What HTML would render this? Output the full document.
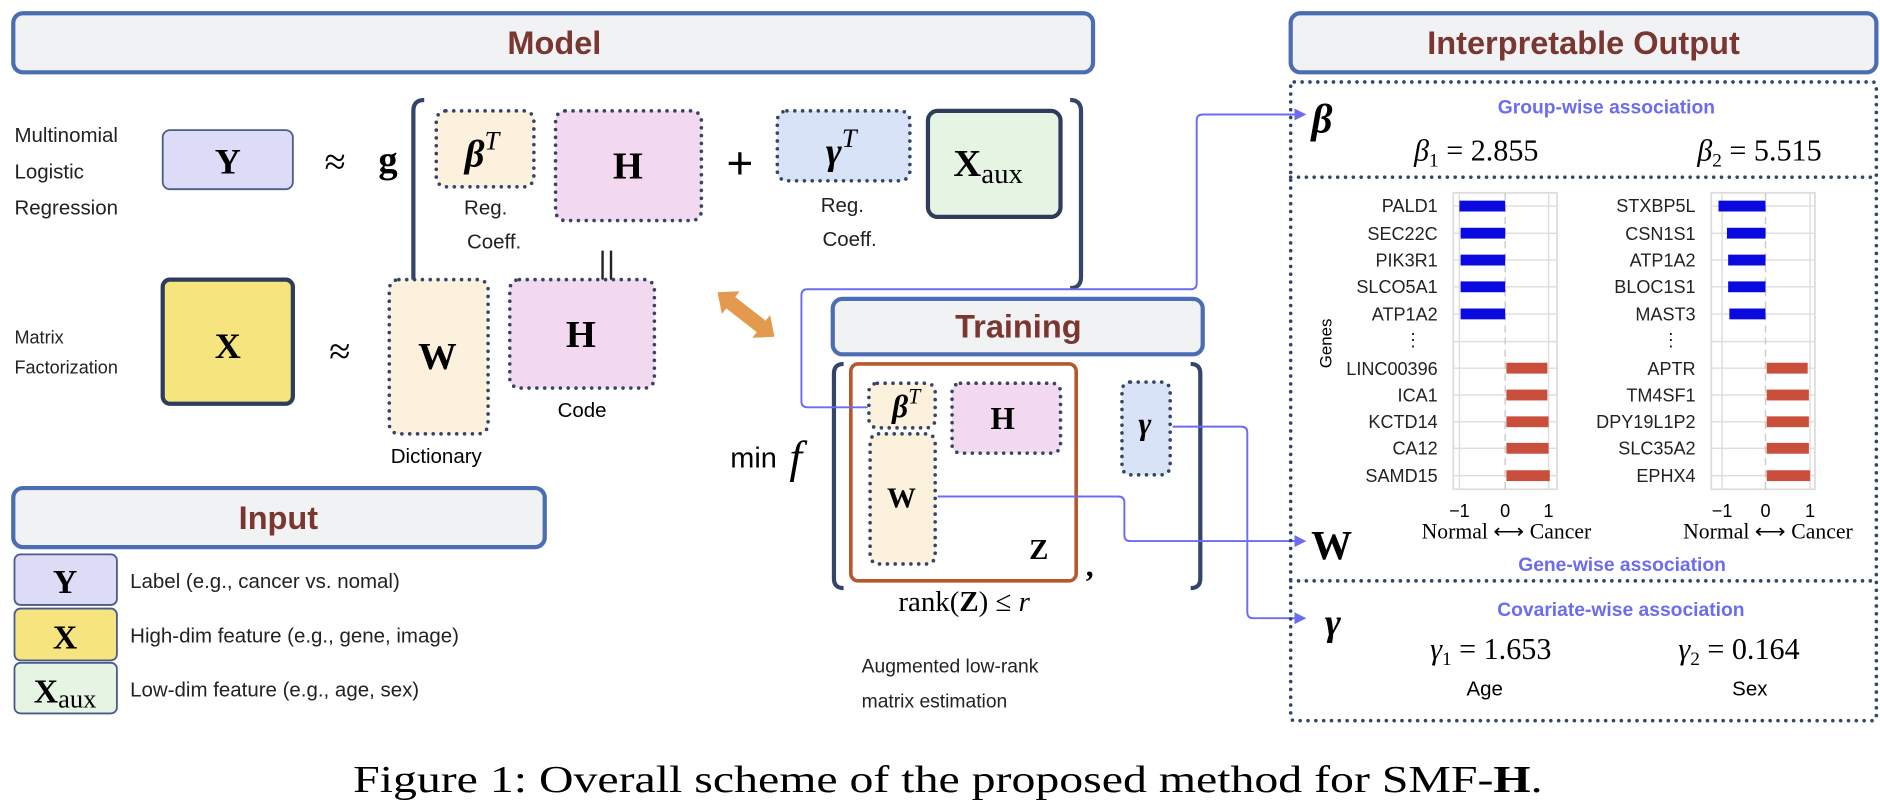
<!DOCTYPE html>
<html><head><meta charset="utf-8"><style>
html,body{margin:0;padding:0;background:#fff;width:1880px;height:802px;overflow:hidden}
svg{display:block}
.s{font-family:"Liberation Sans",sans-serif}
.r{font-family:"Liberation Serif",serif}
.hd{font-family:"Liberation Sans",sans-serif;font-weight:bold;fill:#7a3630;font-size:27px}
.dot{stroke:#34456a;stroke-width:3;stroke-dasharray:0 6.5;stroke-linecap:round}
.lk{fill:none;stroke:#6c6cf0;stroke-width:1.6}
.gl{font-family:"Liberation Sans",sans-serif;font-size:15px;fill:#222;text-anchor:end}
</style></head><body>
<svg width="1880" height="802" viewBox="0 0 1560 665.5" xmlns="http://www.w3.org/2000/svg">
<defs><marker id="ar" markerWidth="10" markerHeight="10" refX="8" refY="5" orient="auto" markerUnits="userSpaceOnUse"><path d="M0,0 L10,5 L0,10 z" fill="#6c6cf0"/></marker></defs>

<!-- headers -->
<rect x="11" y="11" width="896" height="49" rx="8" fill="#f1f2f4" stroke="#4a6db3" stroke-width="3.5"/>
<text x="460" y="45" class="hd" text-anchor="middle">Model</text>
<rect x="1071" y="11" width="486" height="49" rx="8" fill="#f1f2f4" stroke="#4a6db3" stroke-width="3.5"/>
<text x="1314" y="45" class="hd" text-anchor="middle">Interpretable Output</text>
<rect x="11" y="405" width="441" height="49" rx="8" fill="#f1f2f4" stroke="#4a6db3" stroke-width="3.5"/>
<text x="231" y="439" class="hd" text-anchor="middle">Input</text>
<rect x="691" y="248" width="307" height="46" rx="8" fill="#f1f2f4" stroke="#4a6db3" stroke-width="3.5"/>
<text x="845" y="280" class="hd" text-anchor="middle">Training</text>

<!-- Model row 1 -->
<g class="s" font-size="17" fill="#222"><text x="12" y="118">Multinomial</text><text x="12" y="148">Logistic</text><text x="12" y="178">Regression</text>
<text x="12" y="285" font-size="15">Matrix</text><text x="12" y="310" font-size="15">Factorization</text></g>
<rect x="135" y="108" width="108" height="49" rx="6" fill="#dcdcf7" stroke="#4b5b8c" stroke-width="1.5"/>
<text x="189" y="144" class="r" font-weight="bold" font-size="30" text-anchor="middle">Y</text>
<text x="278" y="145" class="r" font-size="32" text-anchor="middle">≈</text>
<text x="322" y="143" class="r" font-weight="bold" font-size="32" text-anchor="middle">g</text>
<path d="M352,83 Q343,83 343,92 L343,230 Q343,239 352,239" fill="none" stroke="#34456a" stroke-width="3.5"/>
<path d="M888,83 Q897,83 897,92 L897,230 Q897,239 888,239" fill="none" stroke="#34456a" stroke-width="3.5"/>
<rect x="362" y="92" width="81" height="63" rx="8" fill="#fbf1dc" class="dot"/>
<text x="400" y="138" class="r" font-style="italic" font-weight="bold" font-size="32" text-anchor="middle">β<tspan font-size="22" dy="-14" font-weight="normal">T</tspan></text>
<rect x="461" y="92" width="121" height="91" rx="8" fill="#f3d9ef" class="dot"/>
<text x="521" y="148" class="r" font-weight="bold" font-size="32" text-anchor="middle">H</text>
<text x="614" y="148" class="s" font-size="38" text-anchor="middle">+</text>
<rect x="645" y="92" width="110" height="58" rx="8" fill="#d9e3f8" class="dot"/>
<text x="698" y="136" class="r" font-style="italic" font-weight="bold" font-size="32" text-anchor="middle">γ<tspan font-size="22" dy="-14" font-weight="normal">T</tspan></text>
<rect x="770" y="92" width="110" height="88" rx="8" fill="#e6f5e3" stroke="#2e3d5c" stroke-width="3.5"/>
<text x="820" y="146" class="r" font-weight="bold" font-size="32" text-anchor="middle">X<tspan font-weight="normal" font-size="24" dy="6">aux</tspan></text>
<g class="s" font-size="17" fill="#222" text-anchor="middle"><text x="403" y="178">Reg.</text><text x="410" y="206">Coeff.</text><text x="699" y="176">Reg.</text><text x="705" y="204">Coeff.</text></g>
<path d="M500,208 L500,240 M507,208 L507,240" stroke="#222" stroke-width="2"/>

<!-- Model row 2 -->
<rect x="135" y="232" width="108" height="103" rx="6" fill="#f6e47e" stroke="#2e3d5c" stroke-width="3.5"/>
<text x="189" y="297" class="r" font-weight="bold" font-size="30" text-anchor="middle">X</text>
<text x="282" y="302" class="r" font-size="32" text-anchor="middle">≈</text>
<rect x="323" y="232" width="82" height="128" rx="8" fill="#fbf1dc" class="dot"/>
<text x="363" y="306" class="r" font-weight="bold" font-size="32" text-anchor="middle">W</text>
<rect x="423" y="232" width="120" height="90" rx="8" fill="#f3d9ef" class="dot"/>
<text x="482" y="288" class="r" font-weight="bold" font-size="32" text-anchor="middle">H</text>
<text x="483" y="346" class="s" font-size="17" text-anchor="middle">Code</text>
<text x="362" y="384" class="s" font-size="17" text-anchor="middle">Dictionary</text>
<!-- orange arrow -->
<g transform="translate(619,261) rotate(38)"><path d="M-30,0 L-16,-12 L-16,-6 L16,-6 L16,-12 L30,0 L16,12 L16,6 L-16,6 L-16,12 z" fill="#e39a4f"/></g>

<!-- Input legend -->
<rect x="12" y="460" width="85" height="42" rx="5" fill="#dcdcf7" stroke="#4b5b8c" stroke-width="1.5"/>
<text x="54" y="492" class="r" font-weight="bold" font-size="28" text-anchor="middle">Y</text>
<rect x="12" y="505" width="85" height="43" rx="5" fill="#f6e47e" stroke="#4b5b8c" stroke-width="1.5"/>
<text x="54" y="538" class="r" font-weight="bold" font-size="28" text-anchor="middle">X</text>
<rect x="12" y="550" width="85" height="42" rx="5" fill="#e6f5e3" stroke="#4b5b8c" stroke-width="1.5"/>
<text x="54" y="583" class="r" font-weight="bold" font-size="28" text-anchor="middle">X<tspan font-weight="normal" font-size="22" dy="4">aux</tspan></text>
<g class="s" font-size="17" fill="#222"><text x="108" y="488">Label (e.g., cancer vs. nomal)</text><text x="108" y="533">High-dim feature (e.g., gene, image)</text><text x="108" y="578">Low-dim feature (e.g., age, sex)</text></g>

<!-- Training -->
<path d="M700,302 Q692,302 692,310 L692,480 Q692,488 700,488" fill="none" stroke="#34456a" stroke-width="3.5"/>
<path d="M988,302 Q996,302 996,310 L996,480 Q996,488 988,488" fill="none" stroke="#34456a" stroke-width="3.5"/>
<rect x="706" y="302" width="187" height="180" rx="6" fill="#fff" stroke="#b5582b" stroke-width="3"/>
<rect x="721" y="318" width="55" height="37" rx="7" fill="#fbf1dc" class="dot"/>
<text x="752" y="346" class="r" font-style="italic" font-weight="bold" font-size="26" text-anchor="middle">β<tspan font-size="18" dy="-11" font-weight="normal">T</tspan></text>
<rect x="722" y="360" width="54" height="108" rx="7" fill="#fbf1dc" class="dot"/>
<text x="748" y="421" class="r" font-weight="bold" font-size="24" text-anchor="middle">W</text>
<rect x="790" y="318" width="90" height="58" rx="7" fill="#f3d9ef" class="dot"/>
<text x="832" y="356" class="r" font-weight="bold" font-size="26" text-anchor="middle">H</text>
<rect x="931" y="317" width="40" height="77" rx="7" fill="#d9e3f8" class="dot"/>
<text x="950" y="360" class="r" font-style="italic" font-weight="bold" font-size="26" text-anchor="middle">γ</text>
<text x="862" y="464" class="r" font-weight="bold" font-size="24" text-anchor="middle">Z</text>
<text x="901" y="478" class="r" font-weight="bold" font-size="26">,</text>
<text x="606" y="388" class="s" font-size="24">min</text>
<text x="655" y="392" class="r" font-style="italic" font-size="38">f</text>
<text x="800" y="507" class="r" font-size="24" text-anchor="middle">rank(<tspan font-weight="bold">Z</tspan>) ≤ <tspan font-style="italic">r</tspan></text>
<g class="s" font-size="16" fill="#222"><text x="715" y="558">Augmented low-rank</text><text x="715" y="587">matrix estimation</text></g>

<!-- connectors -->
<path class="lk" d="M720,338 L670,338 Q665,338 665,333 L665,245 Q665,240 670,240 L988,240 Q993,240 993,235 L993,100 Q993,95 998,95 L1082,95" marker-end="url(#ar)"/>
<path class="lk" d="M973,354 L1030,354 Q1035,354 1035,359 L1035,508 Q1035,513 1040,513 L1082,513" marker-end="url(#ar)"/>
<path class="lk" d="M778,412 L928,412 Q933,412 933,417 L933,444 Q933,449 938,449 L1082,449" marker-end="url(#ar)"/>

<!-- Output panel -->
<rect x="1071" y="68" width="486" height="530" rx="3" fill="none" class="dot"/>
<line x1="1071" y1="147" x2="1557" y2="147" class="dot"/>
<line x1="1071" y1="482" x2="1557" y2="482" class="dot"/>
<text x="1097" y="110" class="r" font-style="italic" font-weight="bold" font-size="34" text-anchor="middle">β</text>
<text x="1333" y="94" class="s" font-weight="bold" font-size="16" fill="#6c6cf0" text-anchor="middle">Group-wise association</text>
<text x="1225" y="133" class="r" font-size="25" text-anchor="middle"><tspan font-style="italic">β</tspan><tspan font-size="16" dy="5">1</tspan><tspan dy="-5"> = 2.855</tspan></text>
<text x="1460" y="133" class="r" font-size="25" text-anchor="middle"><tspan font-style="italic">β</tspan><tspan font-size="16" dy="5">2</tspan><tspan dy="-5"> = 5.515</tspan></text>

<!-- chart 1 -->
<g>
<rect x="1206" y="160" width="86" height="246" fill="none" stroke="#ddd" stroke-width="1.5"/>
<g stroke="#ddd" stroke-width="1.2">
<line x1="1211" y1="160" x2="1211" y2="406"/><line x1="1285" y1="160" x2="1285" y2="406"/>
<line x1="1206" y1="171" x2="1292" y2="171"/><line x1="1206" y1="193.6" x2="1292" y2="193.6"/><line x1="1206" y1="215.8" x2="1292" y2="215.8"/><line x1="1206" y1="238" x2="1292" y2="238"/><line x1="1206" y1="260.6" x2="1292" y2="260.6"/><line x1="1206" y1="283.5" x2="1292" y2="283.5"/><line x1="1206" y1="305.5" x2="1292" y2="305.5"/><line x1="1206" y1="327.8" x2="1292" y2="327.8"/><line x1="1206" y1="350" x2="1292" y2="350"/><line x1="1206" y1="372" x2="1292" y2="372"/><line x1="1206" y1="394.7" x2="1292" y2="394.7"/>
</g>
<line x1="1249" y1="160" x2="1249" y2="406" stroke="#ccc" stroke-width="1.2" stroke-dasharray="6 4"/>
<g fill="#0a0ae0"><rect x="1211" y="166.5" width="38" height="9"/><rect x="1212" y="189" width="37" height="9"/><rect x="1212" y="211.3" width="37" height="9"/><rect x="1212" y="233.5" width="37" height="9"/><rect x="1212" y="256" width="37" height="9"/></g>
<g fill="#c94f3c"><rect x="1250" y="301" width="34" height="9"/><rect x="1250" y="323.3" width="34" height="9"/><rect x="1250" y="345.5" width="35" height="9"/><rect x="1250" y="367.5" width="35" height="9"/><rect x="1250" y="390.2" width="36" height="9"/></g>
<g class="gl"><text x="1193" y="176">PALD1</text><text x="1193" y="199">SEC22C</text><text x="1193" y="221">PIK3R1</text><text x="1193" y="243">SLCO5A1</text><text x="1193" y="266">ATP1A2</text><text x="1180" y="287">⋮</text><text x="1193" y="311">LINC00396</text><text x="1193" y="333">ICA1</text><text x="1193" y="355">KCTD14</text><text x="1193" y="377">CA12</text><text x="1193" y="400">SAMD15</text></g>
<g class="s" font-size="15" text-anchor="middle"><text x="1211" y="429">−1</text><text x="1249" y="429">0</text><text x="1285" y="429">1</text></g>
<text x="1250" y="447" class="r" font-size="18" text-anchor="middle">Normal ⟷ Cancer</text>
</g>
<text transform="translate(1105,285) rotate(-90)" class="s" font-size="14" text-anchor="middle">Genes</text>

<!-- chart 2 -->
<g>
<rect x="1420" y="160" width="86" height="246" fill="none" stroke="#ddd" stroke-width="1.5"/>
<g stroke="#ddd" stroke-width="1.2">
<line x1="1429" y1="160" x2="1429" y2="406"/><line x1="1502" y1="160" x2="1502" y2="406"/>
<line x1="1420" y1="171" x2="1506" y2="171"/><line x1="1420" y1="193.6" x2="1506" y2="193.6"/><line x1="1420" y1="215.8" x2="1506" y2="215.8"/><line x1="1420" y1="238" x2="1506" y2="238"/><line x1="1420" y1="260.6" x2="1506" y2="260.6"/><line x1="1420" y1="283.5" x2="1506" y2="283.5"/><line x1="1420" y1="305.5" x2="1506" y2="305.5"/><line x1="1420" y1="327.8" x2="1506" y2="327.8"/><line x1="1420" y1="350" x2="1506" y2="350"/><line x1="1420" y1="372" x2="1506" y2="372"/><line x1="1420" y1="394.7" x2="1506" y2="394.7"/>
</g>
<line x1="1465" y1="160" x2="1465" y2="406" stroke="#ccc" stroke-width="1.2" stroke-dasharray="6 4"/>
<g fill="#0a0ae0"><rect x="1426" y="166.5" width="39" height="9"/><rect x="1433" y="189" width="32" height="9"/><rect x="1434" y="211.3" width="31" height="9"/><rect x="1434" y="233.5" width="31" height="9"/><rect x="1435" y="256" width="30" height="9"/></g>
<g fill="#c94f3c"><rect x="1466" y="301" width="34" height="9"/><rect x="1466" y="323.3" width="35" height="9"/><rect x="1466" y="345.5" width="35" height="9"/><rect x="1466" y="367.5" width="35" height="9"/><rect x="1466" y="390.2" width="36" height="9"/></g>
<g class="gl"><text x="1407" y="176">STXBP5L</text><text x="1407" y="199">CSN1S1</text><text x="1407" y="221">ATP1A2</text><text x="1407" y="243">BLOC1S1</text><text x="1407" y="266">MAST3</text><text x="1394" y="287">⋮</text><text x="1407" y="311">APTR</text><text x="1407" y="333">TM4SF1</text><text x="1407" y="355">DPY19L1P2</text><text x="1407" y="377">SLC35A2</text><text x="1407" y="400">EPHX4</text></g>
<g class="s" font-size="15" text-anchor="middle"><text x="1429" y="429">−1</text><text x="1465" y="429">0</text><text x="1502" y="429">1</text></g>
<text x="1467" y="447" class="r" font-size="18" text-anchor="middle">Normal ⟷ Cancer</text>
</g>
<text x="1105" y="464" class="r" font-weight="bold" font-size="34" text-anchor="middle">W</text>
<text x="1346" y="474" class="s" font-weight="bold" font-size="16" fill="#6c6cf0" text-anchor="middle">Gene-wise association</text>

<text x="1106" y="527" class="r" font-style="italic" font-weight="bold" font-size="32" text-anchor="middle">γ</text>
<text x="1345" y="511" class="s" font-weight="bold" font-size="16" fill="#6c6cf0" text-anchor="middle">Covariate-wise association</text>
<text x="1237" y="547" class="r" font-size="25" text-anchor="middle"><tspan font-style="italic">γ</tspan><tspan font-size="16" dy="5">1</tspan><tspan dy="-5"> = 1.653</tspan></text>
<text x="1443" y="547" class="r" font-size="25" text-anchor="middle"><tspan font-style="italic">γ</tspan><tspan font-size="16" dy="5">2</tspan><tspan dy="-5"> = 0.164</tspan></text>
<text x="1232" y="577" class="s" font-size="17" text-anchor="middle">Age</text>
<text x="1452" y="577" class="s" font-size="17" text-anchor="middle">Sex</text>

<!-- caption -->
<text x="293" y="657" class="r" font-size="32" textLength="987" lengthAdjust="spacingAndGlyphs">Figure 1: Overall scheme of the proposed method for SMF-<tspan font-weight="bold">H</tspan>.</text>
</svg>
</body></html>
